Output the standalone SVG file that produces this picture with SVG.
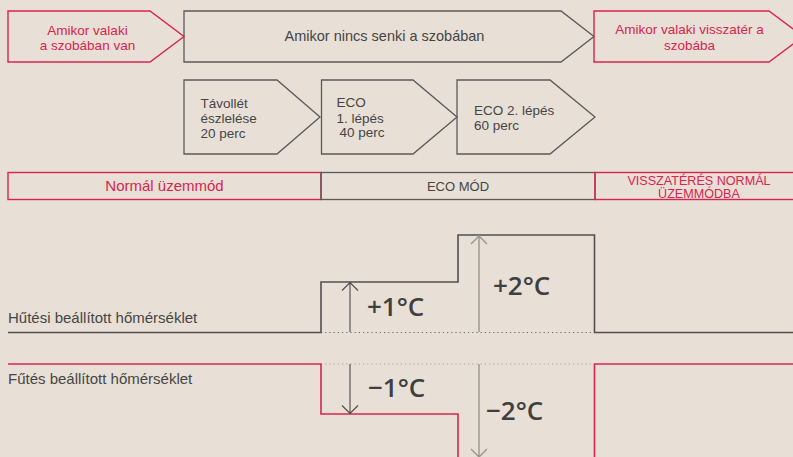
<svg xmlns="http://www.w3.org/2000/svg" width="793" height="457" viewBox="0 0 793 457">
<style>
.bg{fill:#e8e0d6}
.red{fill:none;stroke:#d9244f;stroke-width:1.4}
.gry{fill:none;stroke:#5a5a5a;stroke-width:1.3}
.t{font-family:"Liberation Sans",Arial,sans-serif;fill:#454545}
.tr{font-family:"Liberation Sans",Arial,sans-serif;fill:#d9244f}
.big{font-family:"Open Sans","Liberation Sans",sans-serif;font-weight:600;font-size:26px;fill:#3f3f3f}
.cool{fill:none;stroke:#505050;stroke-width:1.6}
.heat{fill:none;stroke:#d9244f;stroke-width:1.6}
.dot1{fill:none;stroke:#6a6a6a;stroke-width:1.2;stroke-dasharray:1.2 3}
.dot2{fill:none;stroke:#a8a49e;stroke-width:1.2;stroke-dasharray:1.2 3}
.ad{fill:none;stroke:#4a4a4a;stroke-width:1.1}
.al{fill:none;stroke:#9a958e;stroke-width:1.4}
</style>
<rect class="bg" x="0" y="0" width="793" height="457"/>

<g id="top-present">
<polygon class="red" points="8,11 150,11 184,36.5 150,62 8,62"/>
<text class="tr" font-size="13.5" text-anchor="middle" x="87.5" y="34.5">Amikor valaki</text>
<text class="tr" font-size="13.5" text-anchor="middle" x="87.5" y="50">a szobában van</text>
</g>
<g id="top-absent">
<polygon class="gry" points="184,11 561,11 594,36.5 561,62 184,62"/>
<text class="t" font-size="14.5" text-anchor="middle" x="384.5" y="41">Amikor nincs senki a szobában</text>
</g>
<g id="top-return">
<polygon class="red" points="594,11 769,11 803,36.5 769,62 594,62"/>
<text class="tr" font-size="13.5" text-anchor="middle" x="689.5" y="34">Amikor valaki visszatér a</text>
<text class="tr" font-size="13.5" text-anchor="middle" x="689.5" y="49.5">szobába</text>
</g>

<g id="step-detect">
<polygon class="gry" points="184,80 277,80 320,117 277,154 184,154"/>
<text class="t" font-size="13.5" x="200.5" y="107.5">Távollét</text>
<text class="t" font-size="13.5" x="200.5" y="123">észlelése</text>
<text class="t" font-size="13.5" x="200.5" y="137.5">20 perc</text>
</g>
<g id="step-eco1">
<polygon class="gry" points="321.5,80 413,80 457,117 413,154 321.5,154"/>
<text class="t" font-size="13.5" x="336.5" y="107">ECO</text>
<text class="t" font-size="13.5" x="336.5" y="122.5">1. lépés</text>
<text class="t" font-size="13.5" x="339.5" y="137">40 perc</text>
</g>
<g id="step-eco2">
<polygon class="gry" points="457,80 550,80 595,117 550,154 457,154"/>
<text class="t" font-size="13.5" x="474" y="115">ECO 2. lépés</text>
<text class="t" font-size="13.5" x="474" y="129.5">60 perc</text>
</g>

<g id="mode-normal">
<rect class="red" x="8" y="172.5" width="313" height="27"/>
<text class="tr" font-size="15" text-anchor="middle" x="164.5" y="191">Normál üzemmód</text>
</g>
<g id="mode-eco">
<rect class="gry" x="321" y="172.5" width="274" height="27"/>
<text class="t" font-size="13" text-anchor="middle" x="458" y="191">ECO MÓD</text>
</g>
<g id="mode-return">
<rect class="red" x="595" y="172.5" width="210" height="27"/>
<text class="tr" font-size="12.6" text-anchor="middle" x="699" y="184.5">VISSZATÉRÉS NORMÁL</text>
<text class="tr" font-size="12.6" text-anchor="middle" x="699" y="197.5">ÜZEMMÓDBA</text>
</g>

<g id="cooling">
<text class="t" font-size="15" x="8" y="323">Hűtési beállított hőmérséklet</text>
<text class="big" x="367" y="316">+1°C</text>
<text class="big" x="493" y="295">+2°C</text>
</g>
<g id="heating">
<text class="t" font-size="15" x="8" y="384">Fűtés beállított hőmérséklet</text>
<text class="big" x="368" y="397">−1°C</text>
<text class="big" x="486" y="420">−2°C</text>
</g>

<g id="connectors">
<path class="dot1" d="M321,332.5 H594"/>
<path class="dot2" d="M321,364 H594"/>
<path class="cool" d="M8,332.5 H321 V282 H458 V235 H594.5 V332.5 H793"/>
<path class="heat" d="M8,364 H321 V414 H458 V458"/>
<path class="heat" d="M594.5,458 V364 H793"/>
<path class="ad" d="M350,332 V282.5 M342,290.5 L350,282.5 L358,290.5"/>
<path class="al" d="M479,332 V236 M471,244 L479,236 L487,244"/>
<path class="ad" d="M350,364 V413.5 M342,405.5 L350,413.5 L358,405.5"/>
<path class="al" d="M479,364 V457 M471,449 L479,457 L487,449"/>
</g>
</svg>
